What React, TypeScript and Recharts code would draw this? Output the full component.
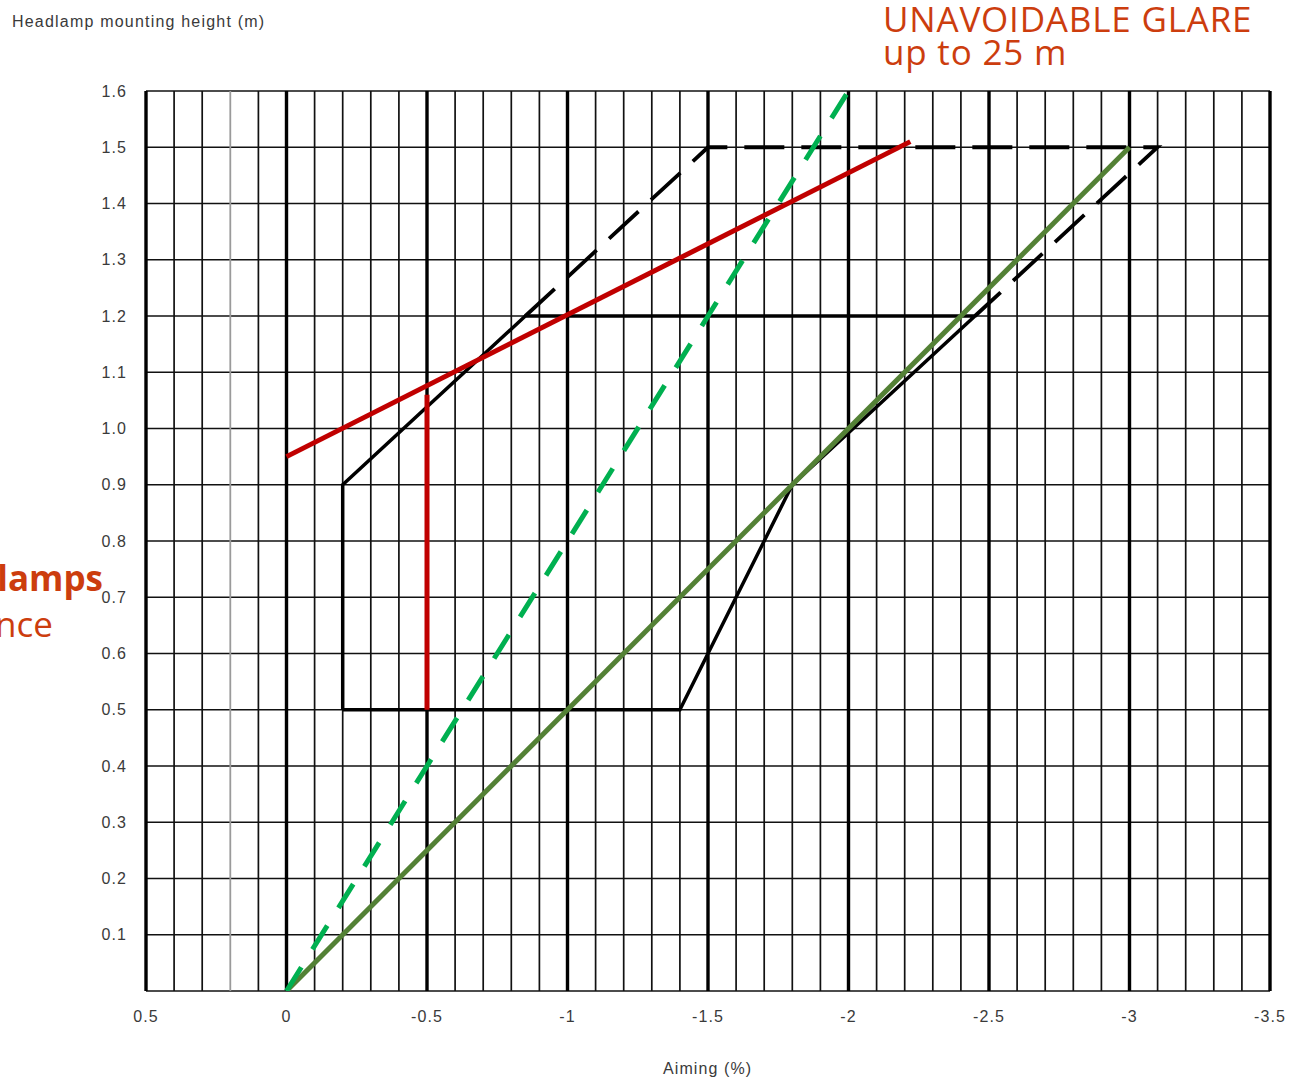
import React from "react";
import { LineChart, Line, XAxis, YAxis, ReferenceLine } from "recharts";

// Axis ticks
const xTicks = [0.5, 0, -0.5, -1, -1.5, -2, -2.5, -3, -3.5];
const yTicks = [0.1, 0.2, 0.3, 0.4, 0.5, 0.6, 0.7, 0.8, 0.9, 1.0, 1.1, 1.2, 1.3, 1.4, 1.5, 1.6];

// Grid lines
const xMinorGrid = [
  0.4, 0.3, 0.1, -0.1, -0.2, -0.3, -0.4, -0.6, -0.7, -0.8, -0.9,
  -1.1, -1.2, -1.3, -1.4, -1.6, -1.7, -1.8, -1.9, -2.1, -2.2, -2.3, -2.4,
  -2.6, -2.7, -2.8, -2.9, -3.1, -3.2, -3.3, -3.4,
];
const xGreyGrid = [0.2];
const xMajorGrid = [0.5, 0, -0.5, -1, -1.5, -2, -2.5, -3, -3.5];
const yGrid = [0, 0.1, 0.2, 0.3, 0.4, 0.5, 0.6, 0.7, 0.8, 0.9, 1.0, 1.1, 1.2, 1.3, 1.4, 1.5, 1.6];

// Series
const zoneSolid = [
  { x: -0.2, y: 0.5 },
  { x: -0.2, y: 0.9 },
  { x: -0.85, y: 1.2 },
  { x: -2.45, y: 1.2 },
  { x: -1.8, y: 0.9 },
  { x: -1.4, y: 0.5 },
  { x: -0.2, y: 0.5 },
];
const zoneDashed = [
  { x: -0.85, y: 1.2 },
  { x: -1.5, y: 1.5 },
  { x: -3.1, y: 1.5 },
  { x: -2.45, y: 1.2 },
];
const redSlope = [
  { x: 0, y: 0.95 },
  { x: -2.22, y: 1.51 },
];
const redVertical = [
  { x: -0.5, y: 0.5 },
  { x: -0.5, y: 1.06 },
];
const greenDashed = [
  { x: 0, y: 0 },
  { x: -2, y: 1.6 },
];
const oliveLine = [
  { x: 0, y: 0 },
  { x: -3, y: 1.5 },
];

const sans = "Liberation Sans, Arial, sans-serif";
const tickStyle = { fontFamily: sans, fontSize: 16, fill: "#3a3a3a", letterSpacing: 1.1 };
const accent = "#CC3D0E";

export default function App() {
  return (
    <div style={{ position: "absolute", left: 0, top: 0, width: 1290, height: 1083, background: "#fff", overflow: "hidden" }}>
      <LineChart
        width={1290}
        height={1083}
        margin={{ top: 91, right: 20, bottom: 62, left: 86 }}
      >
        <XAxis
          dataKey="x"
          type="number"
          domain={[-3.5, 0.5]}
          reversed
          ticks={xTicks}
          axisLine={false}
          tickLine={false}
          tickSize={0}
          tickMargin={20}
          height={30}
          tick={tickStyle}
          allowDataOverflow
        />
        <YAxis
          dataKey="y"
          type="number"
          domain={[0, 1.6]}
          ticks={yTicks}
          axisLine={false}
          tickLine={false}
          tickSize={0}
          tickMargin={19}
          width={60}
          tick={tickStyle}
          tickFormatter={(v: number) => v.toFixed(1)}
          allowDataOverflow
        />
        {yGrid.map((v) => (
          <ReferenceLine key={"h" + v} y={v} stroke="#111" strokeWidth={1.6} />
        ))}
        {xGreyGrid.map((v) => (
          <ReferenceLine key={"vg" + v} x={v} stroke="#9a9a9a" strokeWidth={1.8} />
        ))}
        {xMinorGrid.map((v) => (
          <ReferenceLine key={"vm" + v} x={v} stroke="#111" strokeWidth={1.7} />
        ))}
        {xMajorGrid.map((v) => (
          <ReferenceLine key={"vM" + v} x={v} stroke="#000" strokeWidth={3.4} />
        ))}
        <Line data={zoneSolid} dataKey="y" stroke="#000" strokeWidth={3.5} dot={false} isAnimationActive={false} />
        <Line data={zoneDashed} dataKey="y" stroke="#000" strokeWidth={3.8} strokeDasharray="40 17" dot={false} isAnimationActive={false} />
        <Line data={oliveLine} dataKey="y" stroke="#538135" strokeWidth={5} dot={false} isAnimationActive={false} />
        <Line data={greenDashed} dataKey="y" stroke="#00B050" strokeWidth={5} strokeDasharray="28 21" dot={false} isAnimationActive={false} />
        <Line data={redSlope} dataKey="y" stroke="#C00000" strokeWidth={5} dot={false} isAnimationActive={false} />
        <Line data={redVertical} dataKey="y" stroke="#C00000" strokeWidth={5} dot={false} isAnimationActive={false} />
      </LineChart>
      <div style={{ position: "absolute", left: 12, top: 13, fontFamily: sans, fontSize: 16, letterSpacing: 1.2, color: "#3a3a3a", whiteSpace: "nowrap" }}>
        Headlamp mounting height (m)
      </div>
      <div style={{ position: "absolute", left: 663, top: 1060, fontFamily: sans, fontSize: 16, letterSpacing: 1.1, color: "#3a3a3a", whiteSpace: "nowrap" }}>
        Aiming (%)
      </div>
      <div style={{ position: "absolute", left: 883, top: 2, fontFamily: "Open Sans, sans-serif", fontSize: 35, lineHeight: "33px", letterSpacing: 0.8, color: accent, whiteSpace: "nowrap" }}>
        UNAVOIDABLE GLARE
      </div>
      <div style={{ position: "absolute", left: 883, top: 35, fontFamily: "Open Sans, sans-serif", fontSize: 35, lineHeight: "33px", letterSpacing: 0.8, color: accent, whiteSpace: "nowrap" }}>
        up to 25 m
      </div>
      <div style={{ position: "absolute", right: 1187, top: 558, fontFamily: "Open Sans, sans-serif", fontSize: 35, lineHeight: "40px", fontWeight: 700, color: accent, whiteSpace: "nowrap" }}>
        lamps
      </div>
      <div style={{ position: "absolute", right: 1237, top: 604, fontFamily: "Open Sans, sans-serif", fontSize: 35, lineHeight: "40px", color: accent, whiteSpace: "nowrap" }}>
        nce
      </div>
    </div>
  );
}
